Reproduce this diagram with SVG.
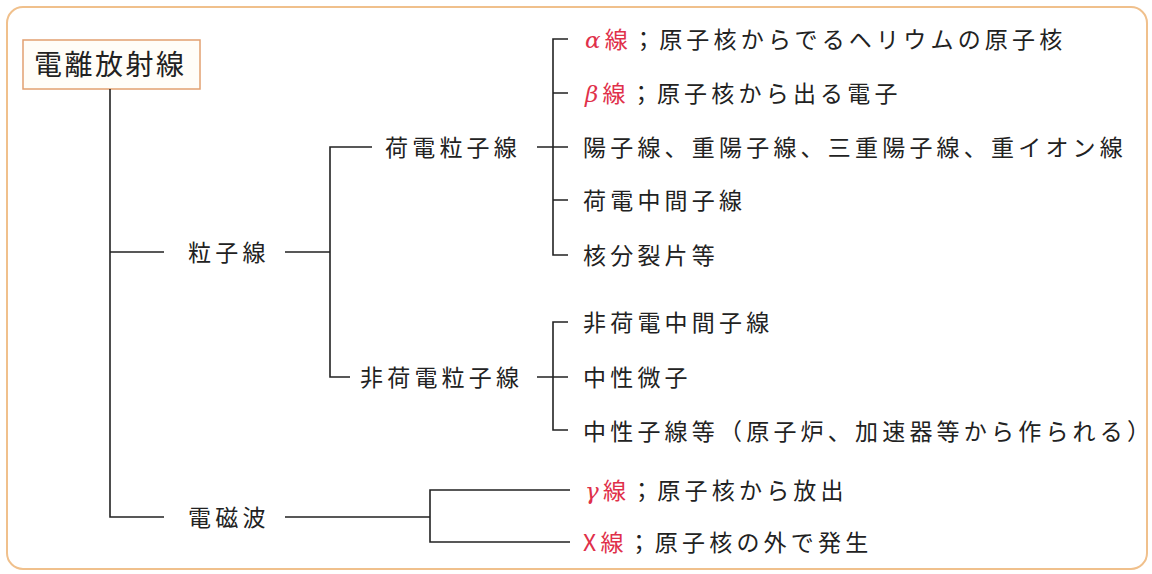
<svg xmlns="http://www.w3.org/2000/svg" width="1152" height="574" viewBox="0 0 1152 574">
<style>
.t{font-family:"Noto Sans CJK JP","Noto Sans",sans-serif;font-size:23px;fill:#222;letter-spacing:4.2px}
.r{fill:#e0304a}
.i{font-style:italic;font-family:"DejaVu Serif","Liberation Serif",serif}
.c line,.c path{stroke:#222;stroke-width:1.6;fill:none}
</style>
<rect x="7" y="7" width="1140" height="562" rx="16" fill="#fff" stroke="#f0c08c" stroke-width="2"/>
<g id="root">
<rect x="23" y="40" width="177" height="49" fill="#fffdf8" stroke="#e2a070" stroke-width="1.5"/>
<text class="t" x="34" y="75" style="font-size:28px;letter-spacing:2.5px">電離放射線</text>
</g>
<g id="particle"><text class="t" x="188" y="261">粒子線</text></g>
<g id="em"><text class="t" x="188" y="526">電磁波</text></g>
<g id="charged"><text class="t" x="385" y="156">荷電粒子線</text></g>
<g id="uncharged"><text class="t" x="360" y="386">非荷電粒子線</text></g>
<g id="alpha"><text class="t" x="585" y="48"><tspan class="r i">α</tspan><tspan class="r">線</tspan>；原子核からでるヘリウムの原子核</text></g>
<g id="beta"><text class="t" x="585" y="102"><tspan class="r i">β</tspan><tspan class="r">線</tspan>；原子核から出る電子</text></g>
<g id="proton"><text class="t" x="583" y="156">陽子線、重陽子線、三重陽子線、重イオン線</text></g>
<g id="meson"><text class="t" x="583" y="209">荷電中間子線</text></g>
<g id="fission"><text class="t" x="583" y="264">核分裂片等</text></g>
<g id="nmeson"><text class="t" x="583" y="331">非荷電中間子線</text></g>
<g id="neutrino"><text class="t" x="583" y="386">中性微子</text></g>
<g id="neutron"><text class="t" x="583" y="440">中性子線等（原子炉、加速器等から作られる）</text></g>
<g id="gamma"><text class="t" x="585" y="499"><tspan class="r i">γ</tspan><tspan class="r">線</tspan>；原子核から放出</text></g>
<g id="xray"><text class="t" x="583" y="551"><tspan class="r">X線</tspan>；原子核の外で発生</text></g>
<g id="connectors" class="c">
<path d="M110 89V517H164M110 252H164"/>
<path d="M285 252H330M372 147H330V377H350"/>
<path d="M537 147H568M568 39H553V255H568M553 93H568M553 200H568"/>
<path d="M537 377H568M568 322H553V430H568"/>
<path d="M285 517H430M570 490H430V542H570"/>
</g>
</svg>
